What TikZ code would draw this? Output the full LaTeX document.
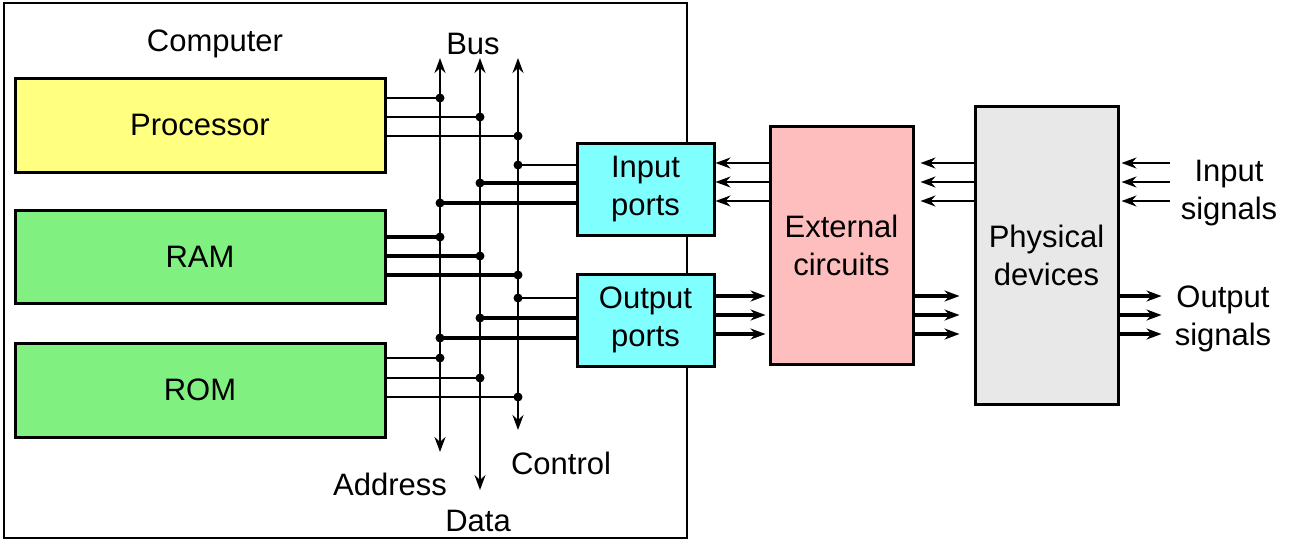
\documentclass[tikz,border=0pt]{standalone}
\usepackage{fontspec}
\setmainfont{Liberation Sans}
\usetikzlibrary{arrows.meta}
\definecolor{procY}{RGB}{255,255,128}
\definecolor{memG}{RGB}{128,240,128}
\definecolor{portC}{RGB}{128,255,255}
\definecolor{extP}{RGB}{255,190,190}
\definecolor{physG}{RGB}{232,232,232}
\tikzset{
  blk/.style={draw=black, line width=3pt, inner sep=0pt, font=\fontsize{31}{38}\selectfont, align=center},
  lbl/.style={font=\fontsize{31}{38}\selectfont, inner sep=0pt, align=center},
  thin/.style={line width=1.8pt},
  thick/.style={line width=4pt},
  jn/.style={fill=black, circle, inner sep=0pt, minimum size=9pt},
  tip/.style={-{Stealth[length=15pt,width=11pt]}},
  btip/.style={{Stealth[length=15pt,width=11pt]}-{Stealth[length=15pt,width=11pt]}},
}
\begin{document}
\begin{tikzpicture}[x=1pt,y=-1pt]
\useasboundingbox (0,0) rectangle (1308,555);
% computer frame
\node[draw=black, line width=2pt, minimum width=683pt, minimum height=535pt, inner sep=0pt, anchor=north west] (comp) at (3,2) {};
\node[lbl] (tcomp) at (215,44) {Computer};
\node[lbl] (tbus) at (473,44) {Bus};
% blocks
\node[blk, fill=procY, minimum width=370pt, minimum height=94pt] (proc) at (200,125) {Processor};
\node[blk, fill=memG, minimum width=370pt, minimum height=93pt] (ram) at (200,256.5) {RAM};
\node[blk, fill=memG, minimum width=370pt, minimum height=94pt] (rom) at (200,390) {ROM};
\node[blk, fill=portC, minimum width=137pt, minimum height=92pt] (inp) at (645.5,189) {Input\\ports};
\node[blk, fill=portC, minimum width=137pt, minimum height=92pt] (outp) at (645.5,320) {Output\\ports};
\node[blk, fill=extP, minimum width=143pt, minimum height=238pt] (ext) at (841.5,245) {External\\circuits};
\node[blk, fill=physG, minimum width=143pt, minimum height=298pt] (phys) at (1046.5,255) {Physical\\devices};
% bus lines
\coordinate (aT) at (440,58); \coordinate (aB) at (440,452);
\coordinate (dT) at (480,58); \coordinate (dB) at (480,490);
\coordinate (cT) at (518,58); \coordinate (cB) at (518,430);
\draw[thin, btip] (aT) -- (aB);
\draw[thin, btip] (dT) -- (dB);
\draw[thin, btip] (cT) -- (cB);
\node[lbl] (tadd) at (390,484) {Address};
\node[lbl] (tdata) at (478,521) {Data};
\node[lbl] (tctrl) at (561,463) {Control};
% junction coordinates
\coordinate (p1) at (440,98); \coordinate (p2) at (480,117); \coordinate (p3) at (518,136);
\coordinate (i1) at (518,165); \coordinate (i2) at (480,183); \coordinate (i3) at (440,203);
\coordinate (m1) at (440,237); \coordinate (m2) at (480,256); \coordinate (m3) at (518,275);
\coordinate (o1) at (518,298); \coordinate (o2) at (480,318); \coordinate (o3) at (440,338);
\coordinate (r1) at (440,358); \coordinate (r2) at (480,378); \coordinate (r3) at (518,397);
% processor
\draw[thin] (proc.east |- p1) -- (p1); \draw[thin] (proc.east |- p2) -- (p2); \draw[thin] (proc.east |- p3) -- (p3);
% input ports
\draw[thin] (inp.west |- i1) -- (i1); \draw[thick] (inp.west |- i2) -- (i2); \draw[thick] (inp.west |- i3) -- (i3);
% ram
\draw[thick] (ram.east |- m1) -- (m1); \draw[thick] (ram.east |- m2) -- (m2); \draw[thick] (ram.east |- m3) -- (m3);
% output ports
\draw[thin] (outp.west |- o1) -- (o1); \draw[thick] (outp.west |- o2) -- (o2); \draw[thick] (outp.west |- o3) -- (o3);
% rom
\draw[thin] (rom.east |- r1) -- (r1); \draw[thin] (rom.east |- r2) -- (r2); \draw[thin] (rom.east |- r3) -- (r3);
\foreach \j in {p1,p2,p3,i1,i2,i3,m1,m2,m3,o1,o2,o3,r1,r2,r3} \node[jn] at (\j) {};
% row levels
\coordinate (y1) at (0,163); \coordinate (y2) at (0,182); \coordinate (y3) at (0,201);
\coordinate (z1) at (0,296); \coordinate (z2) at (0,315); \coordinate (z3) at (0,334);
% external -> input ports
\foreach \y in {y1,y2,y3} \draw[thin, tip] (ext.west |- \y) -- (inp.east |- \y);
% output ports -> external
\foreach \y in {z1,z2,z3} { \coordinate (oe\y) at ([xshift=50pt]outp.east |- \y); \draw[thick, tip] (outp.east |- \y) -- (oe\y); }
% physical -> external
\foreach \y in {y1,y2,y3} { \coordinate (pe\y) at ([xshift=6pt]ext.east |- \y); \draw[thin, tip] (phys.west |- \y) -- (pe\y); }
% external -> physical
\foreach \y in {z1,z2,z3} { \coordinate (ep\y) at ([xshift=-14pt]phys.west |- \y); \draw[thick, tip] (ext.east |- \y) -- (ep\y); }
% input signals
\foreach \y in {y1,y2,y3} { \coordinate (is\y) at (1170,0 |- \y); \draw[thin, tip] (is\y) -- ([xshift=2pt]phys.east |- \y); }
% output signals
\foreach \y in {z1,z2,z3} { \coordinate (os\y) at ([xshift=42pt]phys.east |- \y); \draw[thick, tip] (phys.east |- \y) -- (os\y); }
\node[lbl] (tin) at (1229,193) {Input\\signals};
\node[lbl] (tout) at (1223,319) {Output\\signals};
\end{tikzpicture}
\end{document}
